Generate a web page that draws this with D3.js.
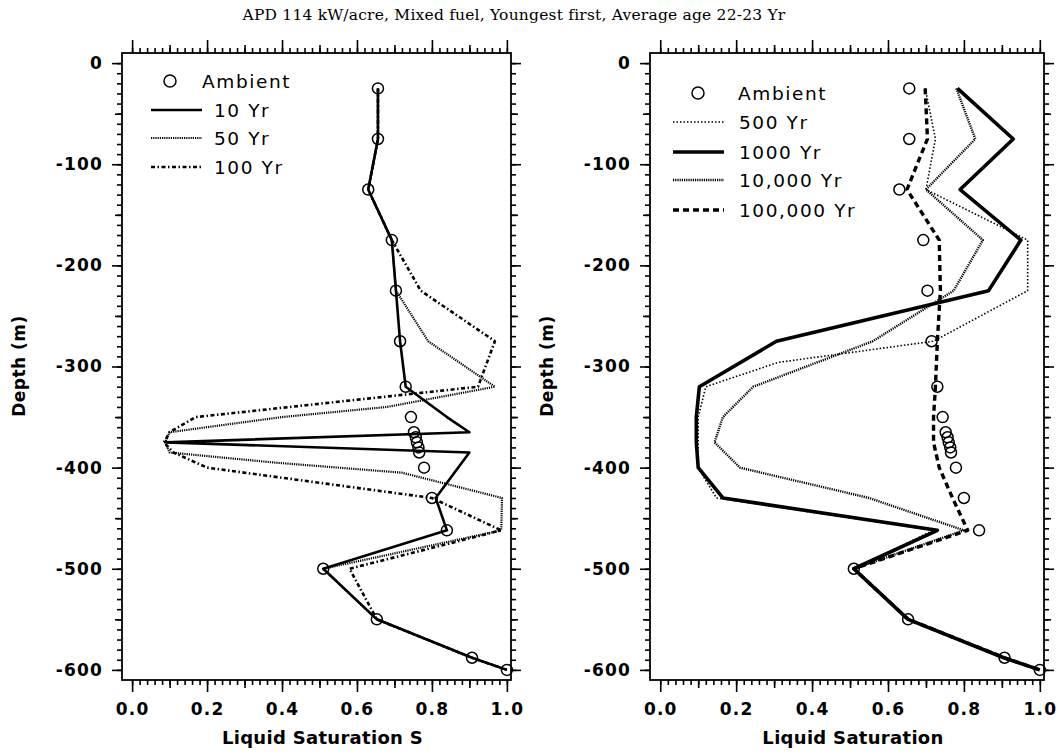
<!DOCTYPE html>
<html><head><meta charset="utf-8">
<script src="https://cdn.jsdelivr.net/npm/d3@7"></script>
<style>body{margin:0;background:#fff}</style>
</head><body>
<svg id="chart" width="1059" height="754"></svg>
<script>
const titleText = "APD 114 kW/acre, Mixed fuel, Youngest first, Average age 22-23 Yr";
const xTicks = [0, 0.2, 0.4, 0.6, 0.8, 1.0];
const yTicks = [0, -100, -200, -300, -400, -500, -600];

const ambientDepth = [-25,-75,-125,-175,-225,-275,-320,-350,-365,-370,-375,-380,-385,-400,-430,-462,-500,-550,-588,-600];
const ambientSat   = [0.656,0.656,0.63,0.693,0.704,0.715,0.73,0.744,0.752,0.757,0.76,0.764,0.766,0.779,0.80,0.84,0.51,0.653,0.907,1.0];

const yr10Depth = [-25,-75,-125,-175,-225,-275,-320,-350,-365,-375,-385,-430,-462,-500,-550,-588,-600];
const yr10Sat   = [0.656,0.656,0.63,0.693,0.704,0.715,0.73,0.84,0.90,0.09,0.90,0.81,0.84,0.51,0.653,0.907,1.0];

const yr50Depth = [-25,-75,-125,-175,-225,-275,-320,-340,-350,-365,-375,-385,-395,-405,-430,-462,-500,-550,-588,-600];
const yr50Sat   = [0.656,0.656,0.63,0.693,0.704,0.79,0.968,0.68,0.40,0.10,0.088,0.10,0.38,0.72,0.987,0.985,0.51,0.653,0.907,1.0];

const yr100Depth = [-25,-75,-125,-175,-225,-275,-320,-350,-365,-375,-385,-400,-430,-462,-500,-550,-588,-600];
const yr100Sat   = [0.656,0.656,0.63,0.693,0.77,0.968,0.923,0.17,0.10,0.085,0.11,0.20,0.80,0.985,0.58,0.653,0.907,1.0];

const yr500Depth = [-25,-75,-125,-175,-225,-275,-296,-320,-350,-400,-430,-462,-500,-550,-588,-600];
const yr500Sat   = [0.698,0.725,0.70,0.968,0.968,0.72,0.31,0.12,0.10,0.10,0.148,0.72,0.51,0.653,0.907,1.0];

const yr1000Depth = [-25,-75,-125,-175,-225,-275,-320,-350,-375,-400,-430,-462,-500,-550,-588,-600];
const yr1000Sat   = [0.783,0.93,0.79,0.95,0.865,0.306,0.103,0.095,0.095,0.10,0.165,0.73,0.51,0.653,0.905,1.0];

const yr10000Depth = [-25,-75,-125,-175,-225,-275,-320,-350,-375,-400,-430,-462,-500,-550,-588,-600];
const yr10000Sat   = [0.78,0.83,0.70,0.85,0.773,0.56,0.245,0.165,0.143,0.21,0.55,0.80,0.51,0.653,0.907,1.0];

const yr100000Depth = [-25,-75,-125,-175,-225,-275,-320,-350,-375,-400,-430,-462,-500,-550,-588,-600];
const yr100000Sat   = [0.698,0.704,0.65,0.735,0.738,0.73,0.725,0.72,0.72,0.735,0.77,0.81,0.51,0.653,0.907,1.0];

const leftSeriesNames = ["10 Yr", "50 Yr", "100 Yr"];
const rightSeriesNames = ["500 Yr", "1000 Yr", "10,000 Yr", "100,000 Yr"];

const zip = (ds, ss) => ds.map((d, i) => ({d: d, s: ss[i]}));

const svg = d3.select("#chart");
const FONT = "DejaVu Sans, Verdana, sans-serif";

svg.append("text").attr("x", 514).attr("y", 20).attr("text-anchor", "middle")
  .attr("font-family", "DejaVu Serif, Liberation Serif, serif").attr("font-size", 15.5)
  .attr("letter-spacing", "0.2px")
  .text(titleText);

const styles = {
  "10 Yr":      {w: 2.6, dash: null},
  "50 Yr":      {w: 2.2, dash: "1.2,1"},
  "100 Yr":     {w: 2.6, dash: "4,2.5,1.5,2.5"},
  "500 Yr":     {w: 1.6, dash: "1.5,2"},
  "1000 Yr":    {w: 3.6, dash: null},
  "10,000 Yr":  {w: 2.4, dash: "1.2,1"},
  "100,000 Yr": {w: 3.4, dash: "6,4"}
};

function panel(cfg) {
  const x = d3.scaleLinear().domain([-0.027, 1.011]).range([cfg.x0, cfg.x1]);
  const y = d3.scaleLinear().domain([10, -610]).range([53, 680]);
  const g = svg.append("g");
  const minorX = d3.range(0, 1.0001, 0.02).map(v => +v.toFixed(2));
  const midX = [0.1, 0.3, 0.5, 0.7, 0.9];
  const minorY = d3.range(0, -601, -10);
  const midY = [-50, -150, -250, -350, -450, -550];

  function axisSet(axisFn, scale, translate, vals, size, labels, fmt) {
    const a = axisFn(scale).tickValues(vals).tickSizeInner(size).tickSizeOuter(0)
      .tickPadding(labels ? 9 : 0).tickFormat(labels ? fmt : () => "");
    const ag = g.append("g").attr("transform", translate).call(a);
    ag.select(".domain").remove();
    ag.selectAll("line").attr("stroke", "#000").attr("stroke-width", 1.6);
    ag.selectAll("text").attr("font-family", FONT).attr("font-weight", "bold")
      .attr("font-size", 17).attr("letter-spacing", "1.2px").attr("fill", "#000");
    return ag;
  }
  // bottom
  axisSet(d3.axisBottom, x, `translate(0,${680})`, minorX, 5, false);
  axisSet(d3.axisBottom, x, `translate(0,${680})`, midX, 8, false);
  axisSet(d3.axisBottom, x, `translate(0,${680})`, xTicks, 12, true, d3.format(".1f"))
    .selectAll("text").attr("dy", "0.85em");
  // top
  axisSet(d3.axisTop, x, `translate(0,${53})`, minorX, 5, false);
  axisSet(d3.axisTop, x, `translate(0,${53})`, midX, 8, false);
  axisSet(d3.axisTop, x, `translate(0,${53})`, xTicks, 13, false);
  // left
  axisSet(d3.axisLeft, y, `translate(${cfg.x0},0)`, minorY, 5, false);
  axisSet(d3.axisLeft, y, `translate(${cfg.x0},0)`, midY, 7, false);
  axisSet(d3.axisLeft, y, `translate(${cfg.x0},0)`, yTicks, 10, true, d => String(d));
  // right
  axisSet(d3.axisRight, y, `translate(${cfg.x1},0)`, minorY, 5, false);
  axisSet(d3.axisRight, y, `translate(${cfg.x1},0)`, midY, 7, false);
  axisSet(d3.axisRight, y, `translate(${cfg.x1},0)`, yTicks, 10, false);

  g.append("rect").attr("x", cfg.x0).attr("y", 53).attr("width", cfg.x1 - cfg.x0).attr("height", 627)
    .attr("fill", "none").attr("stroke", "#000").attr("stroke-width", 1.8);

  const line = d3.line().x(p => x(p.s)).y(p => y(p.d));
  cfg.series.forEach(s => {
    const st = styles[s.name];
    g.append("path").datum(zip(s.depth, s.sat)).attr("d", line)
      .attr("fill", "none").attr("stroke", "#000").attr("stroke-width", st.w)
      .attr("stroke-dasharray", st.dash).attr("stroke-linejoin", "round");
  });
  g.selectAll("circle.amb").data(zip(ambientDepth, ambientSat)).enter().append("circle")
    .attr("cx", p => x(p.s)).attr("cy", p => y(p.d)).attr("r", 5.5)
    .attr("fill", "none").attr("stroke", "#000").attr("stroke-width", 1.5);

  // axis titles
  g.append("text").attr("x", (cfg.x0 + cfg.x1) / 2 + 6).attr("y", 744).attr("text-anchor", "middle")
    .attr("font-family", FONT).attr("font-weight", "bold").attr("font-size", 18)
    .attr("letter-spacing", "0.3px").text(cfg.xTitle);
  g.append("text").attr("transform", `translate(${cfg.x0 - 97},366) rotate(-90)`).attr("text-anchor", "middle")
    .attr("font-family", FONT).attr("font-weight", "bold").attr("font-size", 17)
    .attr("letter-spacing", "0.5px").text("Depth (m)");

  // legend
  const L = cfg.legend;
  const lg = g.append("g").attr("font-family", FONT).attr("font-size", 18.5).attr("letter-spacing", "1.6px");
  lg.append("circle").attr("cx", L.cx).attr("cy", L.rows[0]).attr("r", 6)
    .attr("fill", "none").attr("stroke", "#000").attr("stroke-width", 1.5);
  lg.append("text").attr("x", L.textX0).attr("y", L.rows[0]).attr("dy", "0.36em").text("Ambient");
  cfg.series.forEach((s, i) => {
    const st = styles[s.name];
    const yy = L.rows[i + 1];
    lg.append("line").attr("x1", L.lx1).attr("x2", L.lx2).attr("y1", yy).attr("y2", yy)
      .attr("stroke", "#000").attr("stroke-width", st.w).attr("stroke-dasharray", st.dash);
    lg.append("text").attr("x", L.textX).attr("y", yy).attr("dy", "0.36em").text(s.name);
  });
}

panel({
  x0: 122, x1: 511, xTitle: "Liquid Saturation S",
  series: [
    {name: leftSeriesNames[0], depth: yr10Depth, sat: yr10Sat},
    {name: leftSeriesNames[1], depth: yr50Depth, sat: yr50Sat},
    {name: leftSeriesNames[2], depth: yr100Depth, sat: yr100Sat}
  ],
  legend: {cx: 170, textX0: 202, textX: 214, lx1: 151, lx2: 202, rows: [81, 110, 138, 167]}
});
panel({
  x0: 650, x1: 1044, xTitle: "Liquid Saturation",
  series: [
    {name: rightSeriesNames[0], depth: yr500Depth, sat: yr500Sat},
    {name: rightSeriesNames[1], depth: yr1000Depth, sat: yr1000Sat},
    {name: rightSeriesNames[2], depth: yr10000Depth, sat: yr10000Sat},
    {name: rightSeriesNames[3], depth: yr100000Depth, sat: yr100000Sat}
  ],
  legend: {cx: 698, textX0: 738, textX: 739, lx1: 673, lx2: 724, rows: [93, 122, 152, 180, 210]}
});
</script>
</body></html>
